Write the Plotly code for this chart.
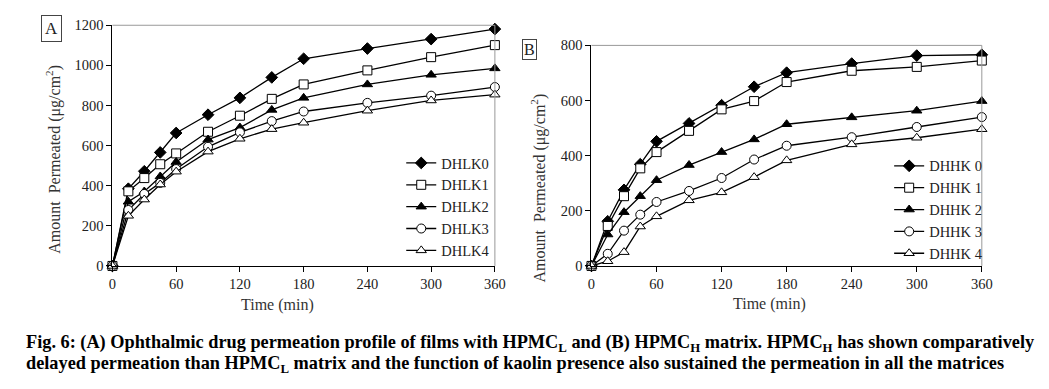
import plotly.graph_objects as go

W, H = 1049, 389
time_min = [0, 15, 30, 45, 60, 90, 120, 150, 180, 240, 300, 360]

# Panel A (HPMC_L)
names_a = ["DHLK0", "DHLK1", "DHLK2", "DHLK3", "DHLK4"]
dhlk0 = [0, 385, 472, 566, 663, 754, 838, 940, 1033, 1084, 1131, 1181]
dhlk1 = [0, 372, 438, 507, 561, 669, 749, 833, 905, 975, 1041, 1101]
dhlk2 = [0, 320, 371, 446, 518, 630, 690, 778, 838, 905, 953, 985]
dhlk3 = [0, 279, 359, 414, 483, 594, 666, 722, 770, 813, 849, 892]
dhlk4 = [0, 250, 331, 406, 470, 570, 634, 682, 714, 774, 825, 854]

# Panel B (HPMC_H)
names_b = ["DHHK 0", "DHHK 1", "DHHK 2", "DHHK 3", "DHHK 4"]
dhhk0 = [0, 162, 276, 369, 452, 517, 583, 650, 701, 734, 763, 766]
dhhk1 = [0, 145, 253, 354, 413, 490, 568, 598, 667, 708, 722, 745]
dhhk2 = [0, 114, 195, 253, 311, 366, 413, 459, 514, 539, 563, 598]
dhhk3 = [0, 44, 128, 186, 232, 272, 319, 386, 436, 467, 504, 540]
dhhk4 = [0, 17, 50, 143, 180, 238, 267, 322, 383, 441, 465, 496]

x_ticks = [0, 60, 120, 180, 240, 300, 360]
y_ticks_a = [0, 200, 400, 600, 800, 1000, 1200]
y_ticks_b = [0, 200, 400, 600, 800]

symbols = ["diamond", "square", "triangle-up", "circle", "triangle-up"]
fills = ["black", "white", "black", "white", "white"]
sizes = [9, 9, 9, 9, 9]

SERIF = "Liberation Serif"

fig = go.Figure()

def px_x(p):
    return p / W

def px_y(p):
    return 1 - p / H

for i, (nm, ys) in enumerate(zip(names_a, [dhlk0, dhlk1, dhlk2, dhlk3, dhlk4])):
    fig.add_trace(go.Scatter(
        x=time_min, y=ys, name=nm, mode="lines+markers",
        line=dict(color="black", width=1.3),
        marker=dict(symbol=symbols[i], size=sizes[i], color=fills[i],
                    line=dict(color="black", width=1)),
        cliponaxis=False, xaxis="x", yaxis="y", legend="legend"))

for i, (nm, ys) in enumerate(zip(names_b, [dhhk0, dhhk1, dhhk2, dhhk3, dhhk4])):
    fig.add_trace(go.Scatter(
        x=time_min, y=ys, name=nm, mode="lines+markers",
        line=dict(color="black", width=1.3),
        marker=dict(symbol=symbols[i], size=sizes[i], color=fills[i],
                    line=dict(color="black", width=1)),
        cliponaxis=False, xaxis="x2", yaxis="y2", legend="legend2"))

axis_common = dict(showgrid=False, zeroline=False, showline=True, linecolor="black",
                   linewidth=1, ticks="outside", ticklen=5, tickcolor="black",
                   tickfont=dict(family=SERIF, size=14.5, color="#222"))

fig.update_layout(
    width=W, height=H, margin=dict(l=0, r=0, t=0, b=0),
    paper_bgcolor="white", plot_bgcolor="white", showlegend=True,
    xaxis=dict(domain=[px_x(110), px_x(498)], range=[0, 360], tickvals=x_ticks,
               anchor="y", **axis_common),
    yaxis=dict(domain=[px_y(269), px_y(18)], range=[0, 1200],
               tickvals=y_ticks_a, anchor="x", **axis_common),
    xaxis2=dict(domain=[px_x(596), px_x(992)], range=[0, 360], tickvals=x_ticks,
                anchor="y2", **axis_common),
    yaxis2=dict(domain=[px_y(269), px_y(39)], range=[0, 800],
                tickvals=y_ticks_b, anchor="x2", **axis_common),
    legend=dict(x=px_x(403), y=px_y(145), xanchor="left", yanchor="top",
                bgcolor="rgba(0,0,0,0)", font=dict(family=SERIF, size=14.5, color="#222"),
                itemwidth=30, tracegroupgap=0),
    legend2=dict(x=px_x(898), y=px_y(148), xanchor="left", yanchor="top",
                 bgcolor="rgba(0,0,0,0)", font=dict(family=SERIF, size=14.5, color="#222"),
                 itemwidth=30, tracegroupgap=0),
)

# top/right frame lines (gray)
for xr, yr in [("x", "y"), ("x2", "y2")]:
    fig.add_shape(type="line", xref=f"{xr} domain", yref=f"{yr} domain",
                  x0=0, x1=1, y0=1, y1=1, line=dict(color="#999", width=1))
    fig.add_shape(type="line", xref=f"{xr} domain", yref=f"{yr} domain",
                  x0=1, x1=1, y0=0, y1=1, line=dict(color="#999", width=1))

C = dict(xref="paper", yref="paper", xanchor="center", yanchor="middle", showarrow=False)
ann = []
# Panel letters
ann.append(dict(text="A", x=px_x(48.5), y=px_y(21), **C,
                font=dict(family=SERIF, size=17, color="#222"),
                bordercolor="#444", borderwidth=1, borderpad=3, bgcolor="white"))
ann.append(dict(text="B", x=px_x(533.5), y=px_y(43), **C,
                font=dict(family=SERIF, size=16, color="#222"),
                bordercolor="#444", borderwidth=1, borderpad=1, bgcolor="white"))
# y titles
ytitle = "Amount  Permeated (μg/cm<sup>2</sup>)"
ann.append(dict(text=ytitle, x=px_x(50), y=px_y(158), textangle=-90, **C,
                font=dict(family=SERIF, size=16, color="#333")))
ann.append(dict(text=ytitle, x=px_x(542), y=px_y(188), textangle=-90, **C,
                font=dict(family=SERIF, size=16, color="#333")))
# x titles
ann.append(dict(text="Time (min)", x=px_x(277), y=px_y(310), **C,
                font=dict(family=SERIF, size=16, color="#333")))
ann.append(dict(text="Time (min)", x=px_x(777), y=px_y(309), **C,
                font=dict(family=SERIF, size=16, color="#333")))
# caption (two lines)
cap1 = ("Fig. 6: (A) Ophthalmic drug permeation profile of films with HPMC<sub>L</sub> and (B) HPMC<sub>H</sub> matrix. "
        "HPMC<sub>H</sub> has shown comparatively")
cap2 = ("delayed permeation than HPMC<sub>L</sub> matrix and the function "
        "of kaolin presence also sustained the permeation in all the matrices")
L = dict(xref="paper", yref="paper", xanchor="left", yanchor="middle", align="left", showarrow=False)
ann.append(dict(text="<b>" + cap1 + "</b>", x=px_x(20), y=px_y(350), **L,
                font=dict(family=SERIF, size=18.3, color="black")))
ann.append(dict(text="<b>" + cap2 + "</b>", x=px_x(20), y=px_y(372), **L,
                font=dict(family=SERIF, size=18.3, color="black")))

fig.update_layout(annotations=ann)
fig.write_html("out.html", config={"displayModeBar": False},
               post_script="document.body.style.margin='0px';")
